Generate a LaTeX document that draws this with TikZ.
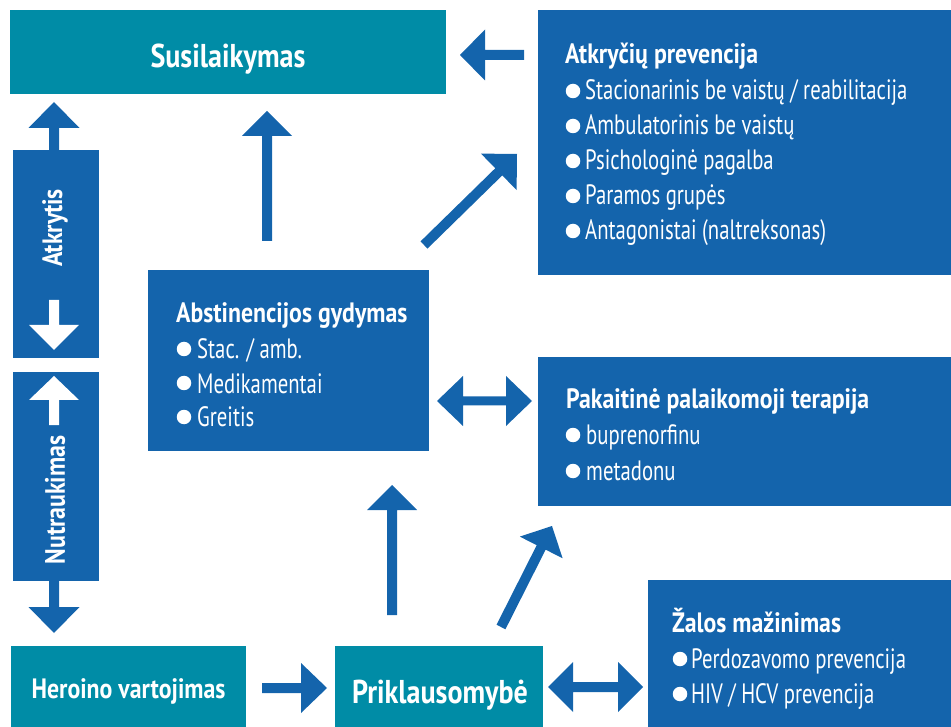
\documentclass[tikz,border=0pt]{standalone}
\usepackage{fontspec}
\setmainfont{PT Sans}[FakeStretch=0.74, BoldFeatures={FakeStretch=0.85}]
\usetikzlibrary{calc}
\definecolor{bl}{RGB}{20,100,172}
\definecolor{tl}{RGB}{0,140,166}
\newcommand\blockarrow[6]{%
 \path ($(#3)!#6!(#2)$) coordinate (hb);
 \fill[#1] ($(#2)!#4!90:(#3)$) -- ($(hb)!#4!90:(#3)$) -- ($(hb)!#5!90:(#3)$) -- (#3) -- ($(hb)!#5!-90:(#3)$) -- ($(hb)!#4!-90:(#3)$) -- ($(#2)!#4!-90:(#3)$) -- cycle;
}
\newcommand\dblarrow[6]{%
 \path ($(#2)!#6!(#3)$) coordinate (ha) ($(#3)!#6!(#2)$) coordinate (hb);
 \fill[#1] (#2) -- ($(ha)!#5!90:(#3)$) -- ($(ha)!#4!90:(#3)$) -- ($(hb)!#4!90:(#3)$) -- ($(hb)!#5!90:(#3)$) -- (#3) -- ($(hb)!#5!-90:(#3)$) -- ($(hb)!#4!-90:(#3)$) -- ($(ha)!#4!-90:(#3)$) -- ($(ha)!#5!-90:(#3)$) -- cycle;
}
\tikzset{
 box/.style={draw=none, inner sep=0pt, anchor=north west},
 tealbox/.style={box, fill=tl},
 bluebox/.style={box, fill=bl},
 txt/.style={text=white, anchor=base west, inner sep=0pt, font=\fontsize{28}{32}\selectfont},
 ttl/.style={txt, font=\fontsize{28}{32}\selectfont\bfseries},
 big/.style={text=white, anchor=base, inner sep=0pt, font=\fontsize{33}{36}\selectfont\bfseries},
 vert/.style={text=white, inner sep=0pt, rotate=90, font=\fontsize{28}{32}\selectfont\bfseries},
 bul/.style={circle, fill=white, inner sep=0pt, minimum size=14.5pt},
 arr/.style={fill=bl},
 warr/.style={fill=white},
}
\begin{document}
\begin{tikzpicture}[x=1pt,y=-1pt]
\useasboundingbox (0,0) rectangle (951,727);
% boxes
\node[tealbox, minimum width=436pt, minimum height=84pt] (susi) at (10,10) {};
\node[bluebox, minimum width=413pt, minimum height=265pt] (atk) at (538,10) {};
\node[bluebox, minimum width=281pt, minimum height=181pt] (abs) at (148,270) {};
\node[bluebox, minimum width=413pt, minimum height=149pt] (pak) at (538,357) {};
\node[bluebox, minimum width=303pt, minimum height=147pt] (zal) at (648,580) {};
\node[tealbox, minimum width=235pt, minimum height=81pt] (her) at (11,646) {};
\node[tealbox, minimum width=208pt, minimum height=81pt] (pri) at (335,646) {};
\node[bluebox, minimum width=86pt, minimum height=208pt] (atkr) at (13,150) {};
\node[bluebox, minimum width=86pt, minimum height=209pt] (nutr) at (13,372) {};
% big labels
\node[big] (tsusi) at (228,68) {Susilaikymas};
\node[big] (tpri) at (440,703) {Priklausomybė};
\node[big, font=\fontsize{28}{32}\selectfont\bfseries] (ther) at (128.5,698) {Heroino vartojimas};
\node[vert] (tatkr) at (55,228) {Atkrytis};
\node[vert] (tnutr) at (55,500) {Nutraukimas};
% Atkryciu prevencija
\node[ttl] (ta0) at (565,64) {Atkryčių prevencija};
\foreach \t [count=\i] in {Stacionarinis be vaistų / reabilitacija, Ambulatorinis be vaistų, Psichologinė pagalba, Paramos grupės, Antagonistai (naltreksonas)}{
  \node[txt] (ta\i) at (585,{65+35*\i}) {\t};
  \node[bul] (ba\i) at (573,{56+35*\i}) {};
}
% Abstinencijos gydymas
\node[ttl] (tb0) at (176,323) {Abstinencijos gydymas};
\foreach \t [count=\i] in {Stac. / amb., Medikamentai, Greitis}{
  \node[txt] (tb\i) at (197,{325+34*\i}) {\t};
  \node[bul] (bb\i) at (184,{315+34*\i}) {};
}
% Pakaitine
\node[ttl] (tc0) at (566,409) {Pakaitinė palaikomoji terapija};
\foreach \t [count=\i] in {buprenorfinu, metadonu}{
  \node[txt] (tc\i) at (586,{408+36*\i}) {\t};
  \node[bul] (bc\i) at (573,{399+36*\i}) {};
}
% Zalos
\node[ttl] (td0) at (672,632) {Žalos mažinimas};
\foreach \t [count=\i] in {Perdozavomo prevencija, HIV / HCV prevencija}{
  \node[txt] (td\i) at (691,{633+35*\i}) {\t};
  \node[bul] (bd\i) at (680,{624+35*\i}) {};
}
% arrow end points
\coordinate (a1s) at (524,55); \coordinate (a1e) at (460,55);
\coordinate (a2s) at (267,241); \coordinate (a2e) at (267,111);
\coordinate (a3s) at (424,245); \coordinate (a3e) at (517,154);
\coordinate (a4s) at (437,401); \coordinate (a4e) at (532,401);
\coordinate (a5s) at (392,615); \coordinate (a5e) at (392,485);
\coordinate (a6s) at (501,627); \coordinate (a6e) at (552,526);
\coordinate (a7s) at (262,688); \coordinate (a7e) at (327,688);
\coordinate (a8s) at (548,687); \coordinate (a8e) at (643,687);
\coordinate (a9s) at (54,150); \coordinate (a9e) at (54,102);
\coordinate (a10s) at (54,300); \coordinate (a10e) at (54,350);
\coordinate (a11s) at (54,425); \coordinate (a11e) at (54,376);
\coordinate (a12s) at (54,581); \coordinate (a12e) at (54,633);
\blockarrow{arr}{a1s}{a1e}{5pt}{25.5pt}{25pt}
\blockarrow{arr}{a2s}{a2e}{5pt}{25pt}{25pt}
\blockarrow{arr}{a3s}{a3e}{5pt}{25.5pt}{25.5pt}
\dblarrow{arr}{a4s}{a4e}{4.5pt}{25pt}{26pt}
\blockarrow{arr}{a5s}{a5e}{5pt}{25pt}{25pt}
\blockarrow{arr}{a6s}{a6e}{5pt}{24pt}{24pt}
\blockarrow{arr}{a7s}{a7e}{5pt}{25pt}{26pt}
\dblarrow{arr}{a8s}{a8e}{5pt}{25pt}{25pt}
\blockarrow{arr}{a9s}{a9e}{5pt}{25.5pt}{26pt}
\blockarrow{warr}{a10s}{a10e}{5pt}{25pt}{25pt}
\blockarrow{warr}{a11s}{a11e}{5pt}{25pt}{24pt}
\blockarrow{arr}{a12s}{a12e}{5pt}{25.5pt}{26pt}
\end{tikzpicture}
\end{document}
